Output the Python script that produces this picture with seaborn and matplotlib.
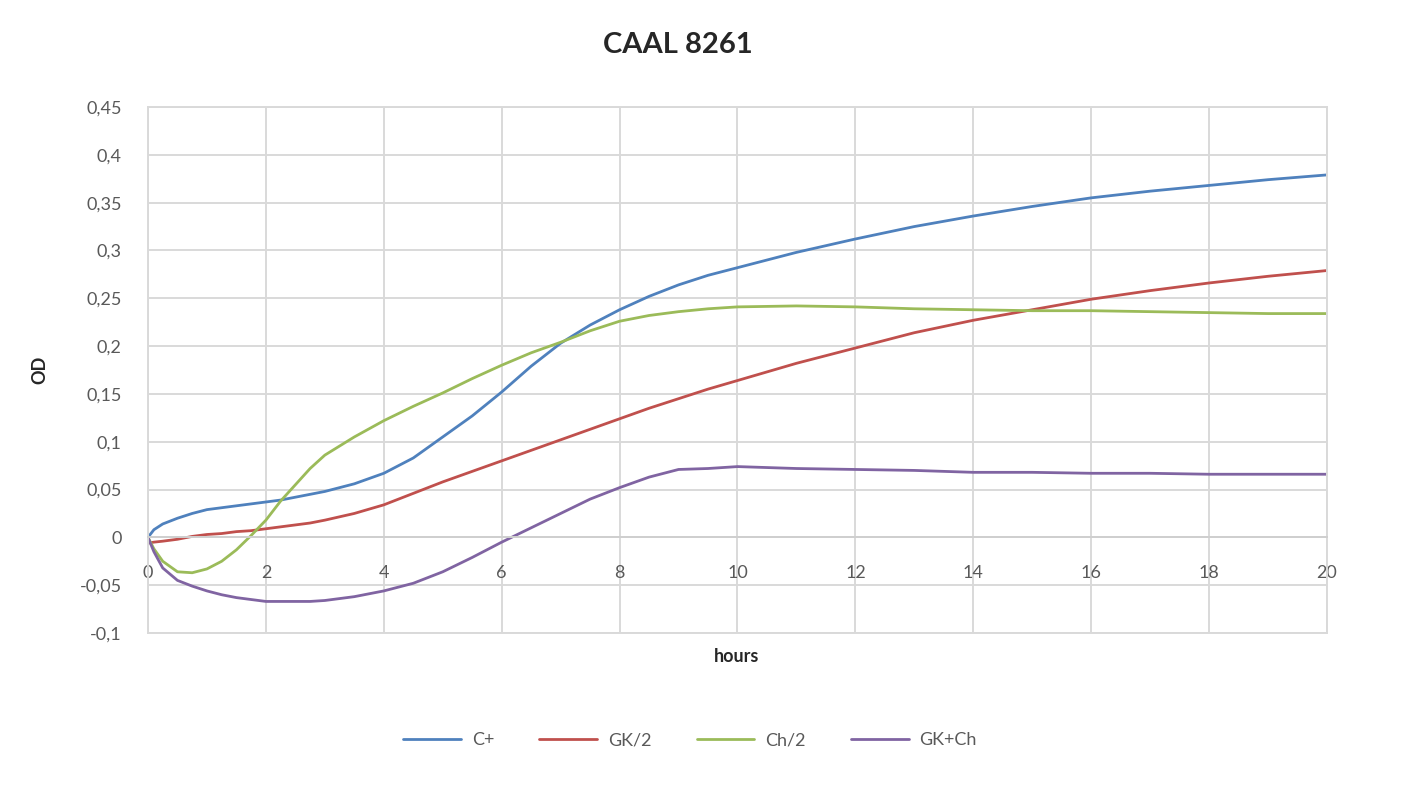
import numpy as np
import pandas as pd
import matplotlib
matplotlib.use("Agg")
import matplotlib.pyplot as plt
import seaborn as sns
from matplotlib.ticker import FuncFormatter, FixedLocator

# ---- data ----
hours = [0, 0.1, 0.25, 0.5, 0.75, 1, 1.25, 1.5, 1.75, 2,
         2.25, 2.5, 2.75, 3, 3.5, 4, 4.5, 5, 5.5, 6,
         6.5, 7, 7.5, 8, 8.5, 9, 9.5, 10, 11, 12,
         13, 14, 15, 16, 17, 18, 19, 20]
c_plus = [0, 0.008, 0.014, 0.020, 0.025, 0.029, 0.031, 0.033, 0.035, 0.037,
          0.039, 0.042, 0.045, 0.048, 0.056, 0.067, 0.083, 0.105, 0.127, 0.152,
          0.179, 0.203, 0.222, 0.238, 0.252, 0.264, 0.274, 0.282, 0.298, 0.312,
          0.325, 0.336, 0.346, 0.355, 0.362, 0.368, 0.374, 0.379]
gk_half = [-0.006, -0.005, -0.004, -0.002, 0.001, 0.003, 0.004, 0.006, 0.007, 0.009,
           0.011, 0.013, 0.015, 0.018, 0.025, 0.034, 0.046, 0.058, 0.069, 0.080,
           0.091, 0.102, 0.113, 0.124, 0.135, 0.145, 0.155, 0.164, 0.182, 0.198,
           0.214, 0.227, 0.238, 0.249, 0.258, 0.266, 0.273, 0.279]
ch_half = [0, -0.012, -0.025, -0.036, -0.037, -0.033, -0.025, -0.013, 0.002, 0.018,
           0.038, 0.055, 0.072, 0.086, 0.105, 0.122, 0.137, 0.151, 0.166, 0.180,
           0.193, 0.204, 0.216, 0.226, 0.232, 0.236, 0.239, 0.241, 0.242, 0.241,
           0.239, 0.238, 0.237, 0.237, 0.236, 0.235, 0.234, 0.234]
gk_ch = [0, -0.015, -0.032, -0.045, -0.051, -0.056, -0.060, -0.063, -0.065, -0.067,
         -0.067, -0.067, -0.067, -0.066, -0.062, -0.056, -0.048, -0.036, -0.021, -0.005,
         0.010, 0.025, 0.040, 0.052, 0.063, 0.071, 0.072, 0.074, 0.072, 0.071,
         0.070, 0.068, 0.068, 0.067, 0.067, 0.066, 0.066, 0.066]
series_names = ["C+", "GK/2", "Ch/2", "GK+Ch"]
x_ticks = [0, 2, 4, 6, 8, 10, 12, 14, 16, 18, 20]
y_ticks = [-0.1, -0.05, 0, 0.05, 0.1, 0.15, 0.2, 0.25, 0.3, 0.35, 0.4, 0.45]
title = "CAAL 8261"
x_label = "hours"
y_label = "OD"

colors = ["#4F81BD", "#C0504D", "#9BBB59", "#8064A2"]

sns.set_theme(style="white")
plt.rcParams['font.family'] = ['Lato', 'DejaVu Sans']

df = pd.concat([
    pd.DataFrame({"hours": hours, "OD": vals, "series": name})
    for name, vals in zip(series_names, [c_plus, gk_half, ch_half, gk_ch])
], ignore_index=True)

W, H = 1425, 800
fig = plt.figure(figsize=(W / 100, H / 100), dpi=100)
L, R, T, B = 148, 1327, 107, 633
ax = fig.add_axes([L / W, 1 - B / H, (R - L) / W, (B - T) / H])

sns.lineplot(data=df, x="hours", y="OD", hue="series", hue_order=series_names,
             palette=colors, linewidth=2.0, ax=ax, legend=True, sort=False,
             estimator=None)

ax.set_xlim(0, 20)
ax.set_ylim(-0.1, 0.45)
ax.xaxis.set_major_locator(FixedLocator(x_ticks))
ax.yaxis.set_major_locator(FixedLocator(y_ticks))

def fmt(v, pos):
    s = ("%g" % round(v, 3)).replace(".", ",")
    return s
ax.yaxis.set_major_formatter(FuncFormatter(fmt))
ax.xaxis.set_major_formatter(FuncFormatter(lambda v, p: "%d" % v))

grid_c = "#d9d9d9"
ax.set_axisbelow(True)
ax.grid(True, color=grid_c, linewidth=1.4)
for s in ["left", "right", "top"]:
    ax.spines[s].set_color(grid_c)
    ax.spines[s].set_linewidth(1.4)
ax.spines["bottom"].set_position(("data", 0))
ax.spines["bottom"].set_color("#cfcfcf")
ax.spines["bottom"].set_linewidth(1.4)
ax.axhline(-0.1, color=grid_c, linewidth=1.4, clip_on=False, zorder=0)

ax.tick_params(axis="both", length=0, labelsize=13, labelcolor="#595959")
ax.tick_params(axis="x", pad=20)
ax.tick_params(axis="y", pad=19)
ax.set_xlabel("")
ax.set_ylabel("")

sns.move_legend(ax, "center", bbox_to_anchor=((690 - L) / (R - L), (B - 740) / (B - T)),
                ncol=4, frameon=False, title=None, fontsize=13,
                handlelength=3.2, columnspacing=2.5, handletextpad=0.6)
for t in ax.get_legend().get_texts():
    t.set_color("#595959")

fig.text(678 / W, 1 - 45 / H, title, ha="center", va="center",
         fontsize=21, fontweight="bold", color="#262626")
fig.text(737 / W, 1 - 657 / H, x_label, ha="center", va="center",
         fontsize=13, fontweight="bold", color="#262626")
fig.text(40 / W, 1 - 370 / H, y_label, ha="center", va="center", rotation=90,
         fontsize=13, fontweight="bold", color="#262626")

fig.savefig("out.png", dpi=100)
